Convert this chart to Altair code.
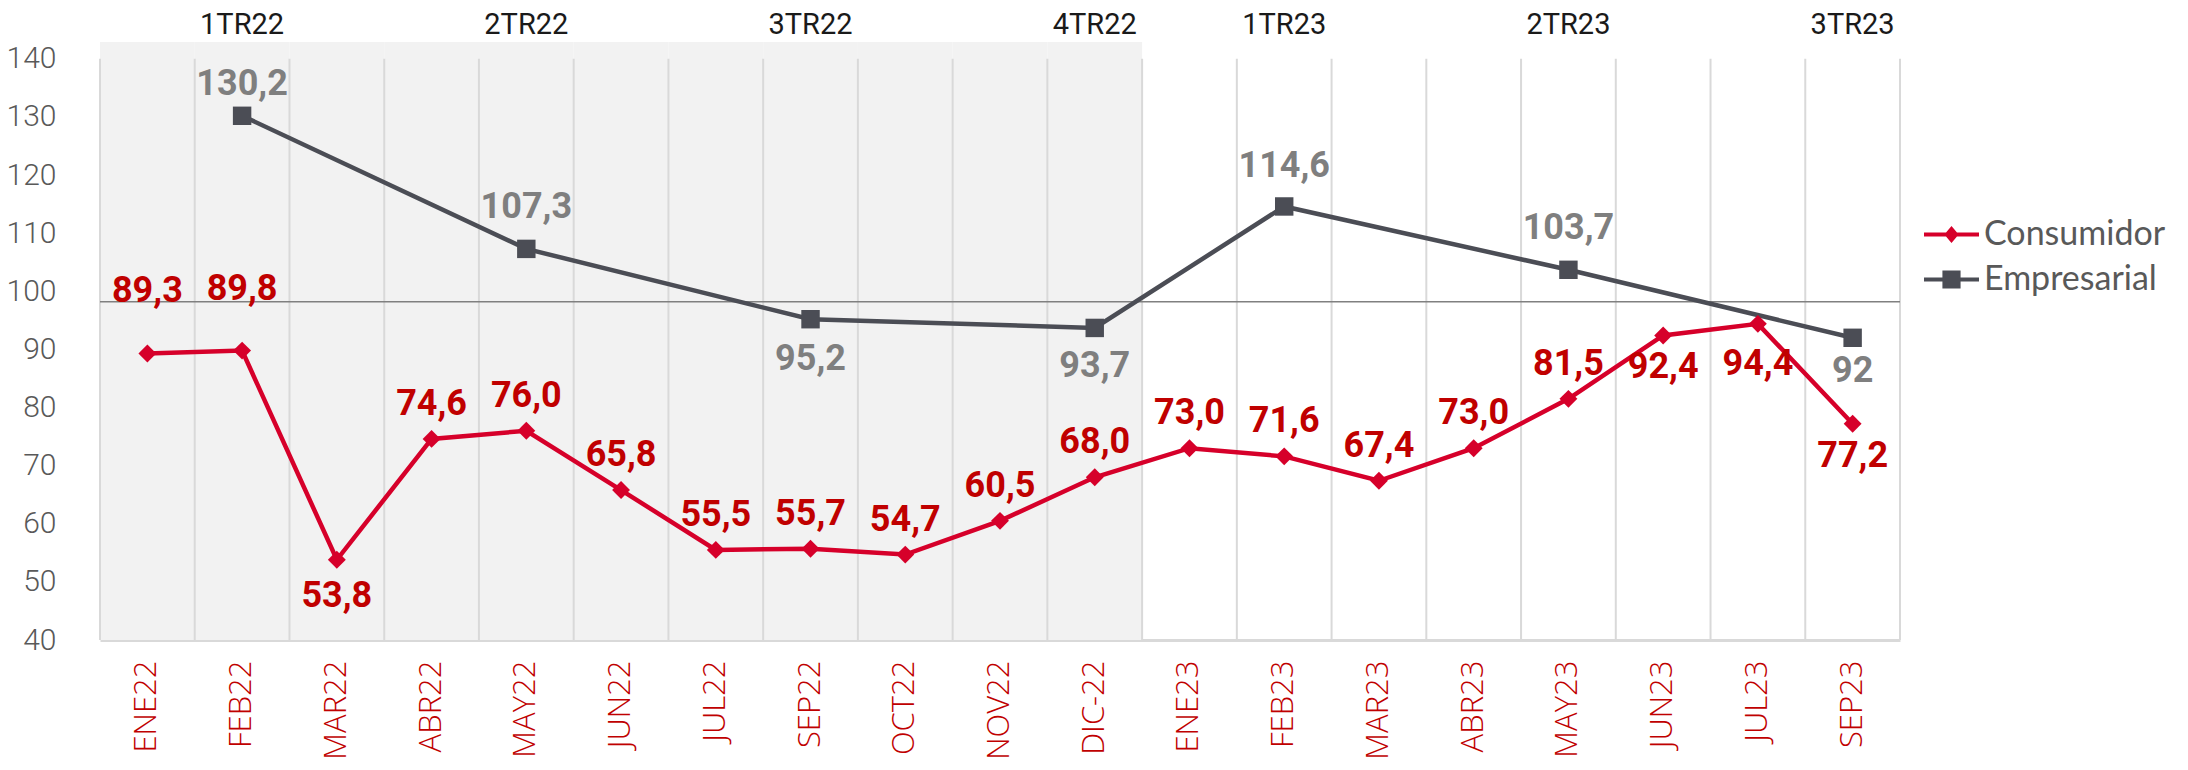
import altair as alt
import pandas as pd

# ---------------- data ----------------
months = ["ENE22", "FEB22", "MAR22", "ABR22", "MAY22", "JUN22", "JUL22", "SEP22", "OCT22",
          "NOV22", "DIC-22", "ENE23", "FEB23", "MAR23", "ABR23", "MAY23", "JUN23", "JUL23", "SEP23"]
consumidor = [89.3, 89.8, 53.8, 74.6, 76.0, 65.8, 55.5, 55.7, 54.7, 60.5, 68.0,
              73.0, 71.6, 67.4, 73.0, 81.5, 92.4, 94.4, 77.2]
emp_months = ["FEB22", "MAY22", "SEP22", "DIC-22", "FEB23", "MAY23", "SEP23"]
empresarial = [130.2, 107.3, 95.2, 93.7, 114.6, 103.7, 92.0]
emp_labels = ["130,2", "107,3", "95,2", "93,7", "114,6", "103,7", "92"]
quarters = ["1TR22", "2TR22", "3TR22", "4TR22", "1TR23", "2TR23", "3TR23"]
shaded_months = months[:11]
reference_line = [98.2]
series = ["Consumidor", "Empresarial"]
y_ticks = [40, 50, 60, 70, 80, 90, 100, 110, 120, 130, 140]

# ---------------- style ----------------
Y_MIN, Y_TOP = 40, 142.9
RED = "#d6002a"
RED_TXT = "#c00000"
GREY_LINE = "#4b4d55"
GREY_TXT = "#7f7f7f"
FONT = "Roboto"

# label vertical offsets (style, in px)
cons_dy = {"ENE22": -62, "FEB22": -62, "MAR22": 36, "JUN23": 32, "JUL23": 40, "SEP23": 32}
cons_dy_default = -35
emp_dy = {"FEB22": -32, "MAY22": -42, "SEP22": 40, "DIC-22": 38, "FEB23": -40, "MAY23": -42, "SEP23": 33}

cons_df = pd.DataFrame({
    "m": months, "v": consumidor, "i": list(range(len(months))),
    "lab": [f"{v:.1f}".replace(".", ",") for v in consumidor],
})
emp_df = pd.DataFrame({"m": emp_months, "v": empresarial, "i": list(range(len(emp_months))),
                       "lab": emp_labels})

xscale = alt.Scale(type="band", domain=months, paddingInner=0, paddingOuter=0)
yscale = alt.Scale(domain=[Y_MIN, Y_TOP], nice=False, zero=False)
yaxis = alt.Axis(values=y_ticks, title=None)
xaxis = alt.Axis(title=None)


def X(**kw):
    return alt.X("m:N", scale=xscale, axis=xaxis, **kw)


Y = alt.Y("v:Q", scale=yscale, axis=yaxis)

bg = alt.Chart(pd.DataFrame({"m": shaded_months})).mark_bar(color="#f2f2f2").encode(
    x=X(),
    y=alt.YDatum(Y_TOP, type="quantitative", scale=yscale, axis=yaxis),
    y2=alt.Y2Datum(Y_MIN),
)

grid = alt.Chart(pd.DataFrame({"m": months})).mark_rule(color="#d9d9d9", strokeWidth=2).encode(
    x=X(bandPosition=0),
    y=alt.YDatum(140, type="quantitative", scale=yscale, axis=yaxis),
    y2=alt.Y2Datum(Y_MIN),
)
grid_end = alt.Chart(pd.DataFrame({"m": months[-1:]})).mark_rule(color="#d9d9d9", strokeWidth=2).encode(
    x=X(bandPosition=1),
    y=alt.YDatum(140, type="quantitative", scale=yscale, axis=yaxis),
    y2=alt.Y2Datum(Y_MIN),
)

ref = alt.Chart(pd.DataFrame({"v": reference_line})).mark_rule(color="#808080", strokeWidth=1.5).encode(y=Y)

emp_line = alt.Chart(emp_df).mark_line(color=GREY_LINE, strokeWidth=4.5).encode(
    x=X(), y=Y, order=alt.Order("i:Q"))
emp_pts = alt.Chart(emp_df).mark_point(shape="square", filled=True, size=340, color=GREY_LINE,
                                        opacity=1).encode(x=X(), y=Y)
cons_line = alt.Chart(cons_df).mark_line(color=RED, strokeWidth=4.5).encode(
    x=X(), y=Y, order=alt.Order("i:Q"))
cons_pts = alt.Chart(cons_df).mark_point(shape="diamond", filled=True, size=320, color=RED,
                                         opacity=1).encode(x=X(), y=Y)


def label_layers(df, dymap, default, color):
    groups = {}
    for m in df["m"]:
        groups.setdefault(dymap.get(m, default), []).append(m)
    layers = []
    for d, ms in groups.items():
        layers.append(
            alt.Chart(df).transform_filter(alt.FieldOneOfPredicate(field="m", oneOf=ms))
            .mark_text(font=FONT, fontSize=36, fontWeight="bold", color=color, dy=d,
                       align="center", baseline="middle")
            .encode(x=X(), y=Y, text="lab:N")
        )
    return layers


cons_labels = label_layers(cons_df, cons_dy, cons_dy_default, RED_TXT)
emp_labels_layers = label_layers(emp_df, emp_dy, 0, GREY_TXT)

qtext = alt.Chart(pd.DataFrame({"m": emp_months, "q": quarters})).mark_text(
    font=FONT, fontSize=29, color="#1a1a1a", baseline="middle", align="center"
).encode(x=X(), y=alt.value(-17), text="q:N")

DIAMOND_PATH = "M-1,-0.07H1V0.07H-1Z M-0.26,0L0,-0.31L0.26,0L0,0.31Z"
SQUARE_PATH = "M-1,-0.07H1V0.07H-1Z M-0.33,-0.33H0.33V0.33H-0.33Z"
leg = alt.Legend(orient="none", legendX=1824, legendY=165, title=None, symbolSize=3025,
                 symbolStrokeWidth=0, symbolOpacity=1, labelFont="Lato", labelFontSize=34,
                 labelColor="#595959", labelOffset=5, labelLimit=400, rowPadding=0, padding=0)
legend_layer = alt.Chart(pd.DataFrame({"serie": series})).transform_filter("false").mark_point(
    filled=True, opacity=1, size=3025
).encode(
    color=alt.Color("serie:N", scale=alt.Scale(domain=series, range=[RED, GREY_LINE]), legend=leg),
    shape=alt.Shape("serie:N", scale=alt.Scale(domain=series, range=[DIAMOND_PATH, SQUARE_PATH]),
                    legend=leg),
)

chart = alt.layer(
    bg, grid, grid_end, ref, emp_line, cons_line, emp_pts, cons_pts,
    *cons_labels, *emp_labels_layers, qtext, legend_layer
).properties(
    width=1800, height=598,
    autosize=alt.AutoSizeParams(type="none"),
    padding={"left": 92, "top": 34, "right": 270, "bottom": 122},
).configure_view(stroke=None).configure_axisX(
    labelAngle=-90, labelAlign="right", labelBaseline="middle", labelFont="Open Sans",
    labelFontSize=31, labelFontWeight=300, labelColor=RED_TXT, labelPadding=20,
    domainColor="#d9d9d9", domainWidth=3, ticks=False, grid=False,
).configure_axisY(
    domain=False, ticks=False, grid=False, labelFont=FONT, labelFontWeight=300,
    labelFontSize=30, labelColor="#595959", labelPadding=44,
)

chart.save("out.html", embed_options={"renderer": "svg", "actions": False})
